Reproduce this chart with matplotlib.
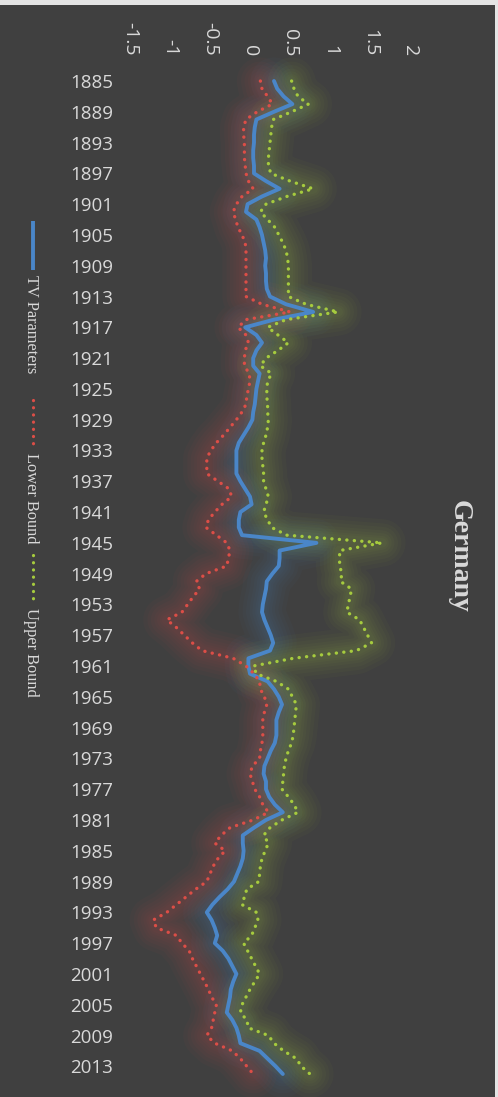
import numpy as np
import matplotlib
matplotlib.use("Agg")
import matplotlib.pyplot as plt
from matplotlib.lines import Line2D
from matplotlib.patches import Rectangle

years = list(range(1885, 2015))

tv_params = [
    0.30, 0.34, 0.42, 0.53, 0.30, 0.08, 0.06, 0.05, 0.05, 0.04,   # 1885-1894
    0.04, 0.05, 0.05, 0.20, 0.37, 0.15, -0.03, -0.05, 0.08, 0.12,  # 1895-1904
    0.15, 0.17, 0.19, 0.20, 0.19, 0.20, 0.20, 0.21, 0.25, 0.45,   # 1905-1914
    0.79, 0.30, -0.06, 0.08, 0.15, 0.08, 0.04, 0.04, 0.12, 0.10,  # 1915-1924
    0.08, 0.07, 0.06, 0.04, 0.03, -0.02, -0.08, -0.14, -0.17, -0.17,  # 1925-1934
    -0.17, -0.17, -0.12, -0.06, 0.00, 0.02, -0.12, -0.14, -0.14, -0.10,  # 1935-1944
    0.83, 0.37, 0.37, 0.36, 0.28, 0.21, 0.20, 0.18, 0.16, 0.15,   # 1945-1954
    0.18, 0.22, 0.26, 0.29, 0.25, -0.02, -0.02, 0.00, 0.22, 0.30,  # 1955-1964
    0.36, 0.40, 0.36, 0.33, 0.33, 0.33, 0.31, 0.26, 0.22, 0.18,   # 1965-1974
    0.17, 0.20, 0.20, 0.24, 0.31, 0.41, 0.20, 0.05, -0.09, -0.09,  # 1975-1984
    -0.08, -0.09, -0.12, -0.16, -0.20, -0.28, -0.38, -0.47, -0.54, -0.48,  # 1985-1994
    -0.44, -0.41, -0.44, -0.34, -0.27, -0.22, -0.17, -0.21, -0.24, -0.25,  # 1995-2004
    -0.27, -0.29, -0.22, -0.17, -0.14, -0.12, 0.12, 0.22, 0.32, 0.41,  # 2005-2014
]

lower_bound = [
    0.13, 0.15, 0.22, 0.28, 0.09, -0.05, -0.08, -0.08, -0.07, -0.07,
    -0.07, -0.06, -0.05, -0.02, 0.04, -0.10, -0.17, -0.21, -0.18, -0.15,
    -0.10, -0.06, -0.05, -0.05, -0.05, -0.05, -0.05, -0.05, -0.05, 0.15,
    0.50, -0.05, -0.15, -0.05, -0.02, -0.06, -0.07, -0.07, -0.01, 0.00,
    -0.02, -0.04, -0.05, -0.10, -0.17, -0.25, -0.33, -0.42, -0.49, -0.54,
    -0.54, -0.54, -0.40, -0.26, -0.23, -0.35, -0.44, -0.52, -0.55, -0.42,
    -0.29, -0.25, -0.27, -0.29, -0.55, -0.67, -0.63, -0.71, -0.78, -0.85,
    -1.04, -0.92, -0.82, -0.72, -0.60, -0.21, -0.05, 0.05, 0.12, 0.13,
    0.18, 0.21, 0.18, 0.16, 0.16, 0.16, 0.15, 0.13, 0.12, 0.03,
    0.00, 0.03, 0.06, 0.12, 0.16, 0.23, 0.04, -0.25, -0.36, -0.44,
    -0.31, -0.40, -0.46, -0.50, -0.54, -0.68, -0.80, -0.92, -1.04, -1.21,
    -1.17, -0.92, -0.85, -0.76, -0.72, -0.67, -0.62, -0.57, -0.52, -0.48,
    -0.42, -0.44, -0.46, -0.48, -0.54, -0.44, -0.22, -0.12, -0.04, 0.04,
]

upper_bound = [
    0.52, 0.55, 0.60, 0.73, 0.52, 0.29, 0.27, 0.26, 0.25, 0.24,
    0.23, 0.23, 0.26, 0.50, 0.79, 0.46, 0.20, 0.13, 0.22, 0.31,
    0.36, 0.41, 0.45, 0.47, 0.48, 0.48, 0.48, 0.48, 0.48, 0.70,
    1.10, 0.45, 0.22, 0.35, 0.48, 0.35, 0.20, 0.13, 0.27, 0.22,
    0.21, 0.21, 0.22, 0.22, 0.23, 0.22, 0.20, 0.17, 0.15, 0.15,
    0.16, 0.17, 0.17, 0.20, 0.23, 0.20, 0.17, 0.22, 0.27, 0.46,
    1.65, 1.12, 1.12, 1.12, 1.15, 1.13, 1.27, 1.25, 1.23, 1.21,
    1.37, 1.42, 1.47, 1.52, 1.33, 0.54, 0.04, 0.08, 0.33, 0.48,
    0.53, 0.58, 0.57, 0.56, 0.55, 0.54, 0.52, 0.48, 0.45, 0.43,
    0.42, 0.41, 0.40, 0.48, 0.55, 0.60, 0.40, 0.25, 0.17, 0.23,
    0.19, 0.15, 0.13, 0.12, 0.11, -0.04, -0.07, -0.10, 0.08, 0.10,
    0.06, 0.02, -0.08, -0.03, 0.02, 0.07, 0.12, 0.06, 0.00, -0.05,
    -0.10, -0.12, -0.04, -0.02, 0.23, 0.30, 0.42, 0.58, 0.64, 0.75,
]

value_ticks = [-1.5, -1, -0.5, 0, 0.5, 1, 1.5, 2]
value_labels = ["-1.5", "-1", "-0.5", "0", "0.5", "1", "1.5", "2"]
year_ticks = list(range(1885, 2014, 4))

BG = "#404040"
TXT = "#d9d9d9"
BLUE = "#4a86c8"
RED = "#dc4e47"
GREEN = "#a6cb3e"

W, H = 498, 1097
fig = plt.figure(figsize=(W / 100, H / 100), dpi=100, facecolor="#e4e4e4")
fig.add_artist(Rectangle((0, 0), 495 / W, (H - 5) / H, transform=fig.transFigure,
                         facecolor=BG, edgecolor="none", zorder=0))

ax = fig.add_axes([130 / W, 23 / H, 280 / W, 993 / H])
ax.set_facecolor(BG)
ax.patch.set_alpha(0)
for s in ax.spines.values():
    s.set_visible(False)

DOTS = (0, (0.05, 2.2))

def glow(x, y, color):
    # soft Excel-style glow: stacked wide translucent strokes
    for lw in [34, 28, 23, 18, 14, 10, 7]:
        ax.plot(x, y, color=color, lw=lw, alpha=0.035, solid_capstyle="round",
                solid_joinstyle="round", clip_on=False, zorder=2)

glow(tv_params, years, BLUE)
ax.plot(tv_params, years, color=BLUE, lw=2.8, solid_joinstyle="round",
        solid_capstyle="round", clip_on=False, zorder=3)
glow(lower_bound, years, RED)
ax.plot(lower_bound, years, color=RED, lw=2.4, linestyle=DOTS,
        dash_capstyle="round", clip_on=False, zorder=3)
glow(upper_bound, years, GREEN)
ax.plot(upper_bound, years, color=GREEN, lw=2.4, linestyle=DOTS,
        dash_capstyle="round", clip_on=False, zorder=3)

ax.set_xlim(-1.5, 2)
ax.set_ylim(2014, 1885)
ax.xaxis.tick_top()
ax.set_xticks(value_ticks)
ax.set_xticklabels(value_labels, rotation=270, family="Open Sans", fontsize=14, color=TXT)
ax.set_yticks(year_ticks)
ax.set_yticklabels([str(y) for y in year_ticks], family="Open Sans", fontsize=13.5, color=TXT)
ax.tick_params(axis="x", length=0, pad=18)
ax.tick_params(axis="y", length=0, pad=12)

# title
fig.text(459 / W, 1 - 556 / H, "Germany", rotation=270, ha="center", va="center",
         family="Liberation Serif", fontweight="bold", fontsize=20, color=TXT)

# legend (rotated)
legend_items = [("TV Parameters", BLUE, "-", 221, 270, 275),
                ("Lower Bound", RED, DOTS, 400, 448, 453),
                ("Upper Bound", GREEN, DOTS, 555, 603, 608)]
for label, col, ls, y0, y1, ty in legend_items:
    fig.add_artist(Line2D([33 / W, 33 / W], [1 - y0 / H, 1 - y1 / H], color=col,
                          lw=2.8 if ls == "-" else 2.3, linestyle=ls,
                          dash_capstyle="round", solid_capstyle="butt",
                          transform=fig.transFigure))
    fig.text(31 / W, 1 - ty / H, label, rotation=270, ha="center", va="top",
             family="Liberation Serif", fontsize=11.8, color=TXT)

fig.savefig("out.png", dpi=100, facecolor=fig.get_facecolor())
